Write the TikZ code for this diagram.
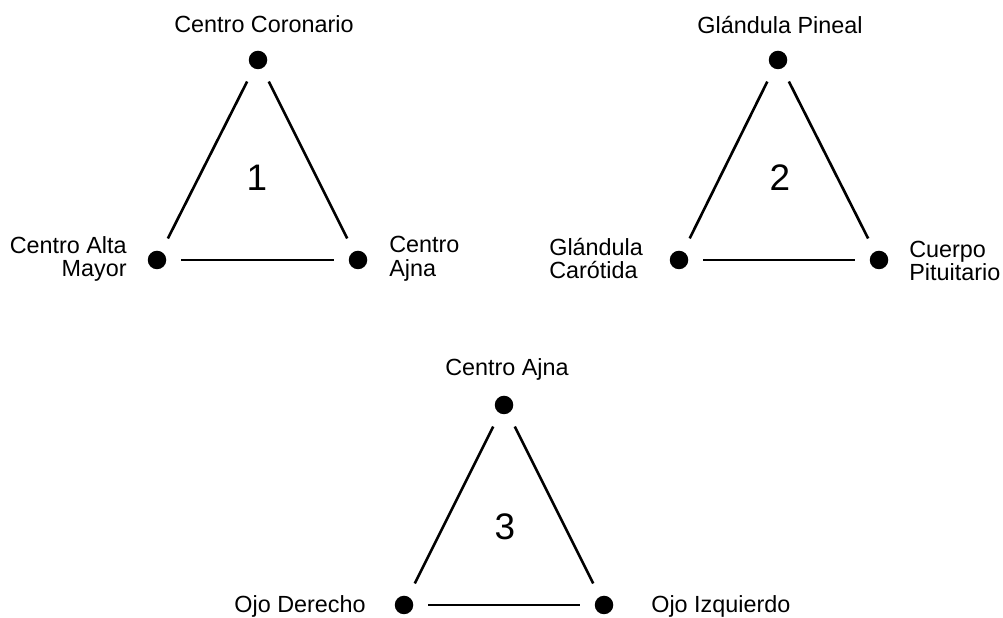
\documentclass[tikz,border=0pt]{standalone}
\usepackage{fontspec}
\setmainfont{Liberation Sans}
\usetikzlibrary{positioning}

\begin{document}
\begin{tikzpicture}[line width=1.5pt, on grid,
        point/.style={circle, fill=black, inner sep=0pt, minimum size=3.7mm},
        link/.style={shorten <=2.7mm, shorten >=2.7mm},
        tag/.style={inner sep=0pt, font=\fontsize{13.3}{13.6}\selectfont},
        numtag/.style={inner sep=0pt, font=\fontsize{21}{24}\selectfont}]
        \useasboundingbox (0,0) rectangle (20.06,12.36);

        % triangulo 1
        \node[point] (c1) at (5.16,11.16) {};
        \node[point] (a1) [below left=4cm and 2.02cm of c1] {};
        \node[point] (b1) [below right=4cm and 2cm of c1] {};
        \node[numtag] (n1) at (5.14,8.80) {1};
        \node[tag] (lc1) at (5.28,11.88) {Centro Coronario};
        \node[tag, anchor=east, align=right] (la1) at (2.56,7.18) {Centro Alta\\Mayor};
        \node[tag, anchor=west, align=left] (lb1) at (7.76,7.18) {Centro\\Ajna};

        % triangulo 2
        \node[point] (c2) at (15.56,11.16) {};
        \node[point] (a2) [below left=4cm and 1.98cm of c2] {};
        \node[point] (b2) [below right=4cm and 2.02cm of c2] {};
        \node[numtag] (n2) at (15.6,8.80) {2};
        \node[tag] (lc2) at (15.6,11.86) {Glándula Pineal};
        \node[tag, anchor=west, align=left] (la2) at (10.96,7.19) {Glándula\\Carótida};
        \node[tag, anchor=west, align=left] (lb2) at (18.16,7.14) {Cuerpo\\Pituitario};

        % triangulo 3
        \node[point] (c3) at (10.08,4.26) {};
        \node[point] (a3) [below left=4cm and 2cm of c3] {};
        \node[point] (b3) [below right=4cm and 2cm of c3] {};
        \node[numtag] (n3) at (10.1,1.82) {3};
        \node[tag] (lc3) at (10.14,4.98) {Centro Ajna};
        \node[tag, anchor=east] (la3) at (7.34,0.24) {Ojo Derecho};
        \node[tag, anchor=west] (lb3) at (13.0,0.24) {Ojo Izquierdo};

        \path[link] (c1) edge (a1)
            (c1) edge (b1)
            (a1) edge (b1)
            (c2) edge (a2)
            (c2) edge (b2)
            (a2) edge (b2)
            (c3) edge (a3)
            (c3) edge (b3)
            (a3) edge (b3);
    \end{tikzpicture}
\end{document}
